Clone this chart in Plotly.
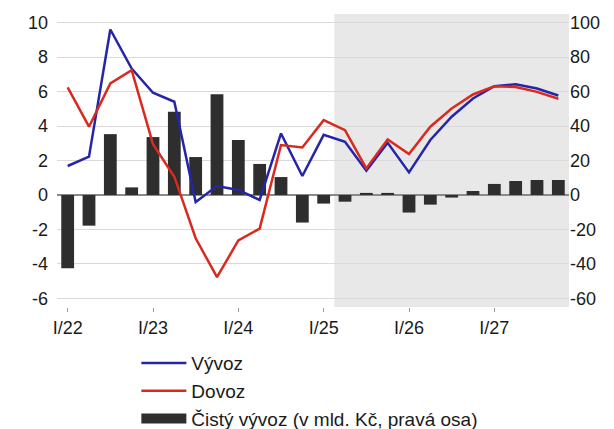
import plotly.graph_objects as go

quarters = ["I/22","II/22","III/22","IV/22","I/23","II/23","III/23","IV/23",
            "I/24","II/24","III/24","IV/24","I/25","II/25","III/25","IV/25",
            "I/26","II/26","III/26","IV/26","I/27","II/27","III/27","IV/27"]
vyvoz = [1.68, 2.22, 9.6, 7.33, 5.93, 5.41, -0.41, 0.52, 0.29, -0.29, 3.57, 1.1,
         3.49, 3.09, 1.41, 3.03, 1.31, 3.19, 4.54, 5.6, 6.31, 6.43, 6.18, 5.77]
dovoz = [6.24, 3.96, 6.47, 7.24, 2.95, 1.06, -2.51, -4.77, -2.64, -1.95, 2.9, 2.76,
         4.34, 3.76, 1.54, 3.22, 2.37, 3.96, 5.02, 5.83, 6.31, 6.27, 5.98, 5.58]
cisty = [-42.5, -17.8, 35.3, 4.4, 33.6, 48.3, 22.0, 58.5, 31.9, 18.0, 10.4, -16.0,
         -5.0, -3.9, 1.2, 1.2, -10.2, -5.6, -1.5, 2.3, 6.4, 8.1, 8.7, 8.7]
tick_labels = ["I/22", "I/23", "I/24", "I/25", "I/26", "I/27"]
left_ticks = [-6, -4, -2, 0, 2, 4, 6, 8, 10]
right_ticks = [-60, -40, -20, 0, 20, 40, 60, 80, 100]

x = list(range(len(quarters)))
font = "Liberation Sans, Arial, sans-serif"
bar_color = "#2e2e2e"

fig = go.Figure()
fig.add_trace(go.Bar(x=x, y=cisty, name="Čistý vývoz (v mld. Kč, pravá osa)",
                     marker=dict(color=bar_color, line=dict(width=0)), width=0.6,
                     yaxis="y", showlegend=False))
fig.add_trace(go.Scatter(x=x, y=vyvoz, name="Vývoz", mode="lines",
                         line=dict(color="#2525a8", width=2.5), yaxis="y2", legendrank=1))
fig.add_trace(go.Scatter(x=x, y=dovoz, name="Dovoz", mode="lines",
                         line=dict(color="#d92a1e", width=2.5), yaxis="y2", legendrank=2))
# legend entry for the bars (wide rectangle symbol)
fig.add_trace(go.Scatter(x=[None], y=[None], name="Čistý vývoz (v mld. Kč, pravá osa)",
                         mode="lines", line=dict(color=bar_color, width=14),
                         yaxis="y2", legendrank=3, hoverinfo="skip"))

fig.add_shape(type="rect", xref="x", yref="paper", x0=12.5, x1=23.5, y0=0, y1=1,
              fillcolor="#e8e8e8", line=dict(width=0), layer="below")

fig.update_layout(
    width=606, height=421,
    margin=dict(l=49, r=45, t=6, b=122.3, autoexpand=False),
    paper_bgcolor="white", plot_bgcolor="white",
    font=dict(family=font, size=18, color="#1a1a1a"),
    showlegend=True,
    legend=dict(orientation="v", x=0.155, xanchor="left", y=-0.127, yanchor="top",
                font=dict(size=19), tracegroupgap=0, itemwidth=45,
                bgcolor="rgba(0,0,0,0)"),
    xaxis=dict(range=[-0.5, 23.5], tickvals=[0, 4, 8, 12, 16, 20], ticktext=tick_labels,
               showgrid=False, zeroline=False, ticks="outside", ticklen=4,
               tickcolor="#999", showline=False, tickfont=dict(size=18),
               automargin=False),
    yaxis=dict(side="right", range=[-65, 105], tickvals=right_ticks,
               ticktext=[str(v) for v in right_ticks],
               showgrid=True, gridcolor="#dadada", gridwidth=1,
               zeroline=True, zerolinecolor="#8a8a8a", zerolinewidth=1.5,
               ticks="", showline=False, tickfont=dict(size=18), automargin=False),
    yaxis2=dict(side="left", overlaying="y", range=[-6.5, 10.5], tickvals=left_ticks,
                ticktext=[str(v) for v in left_ticks],
                showgrid=False, zeroline=False, ticks="", showline=False,
                tickfont=dict(size=18), ticklabelstandoff=8, automargin=False),
)

fig.write_html("out.html")
